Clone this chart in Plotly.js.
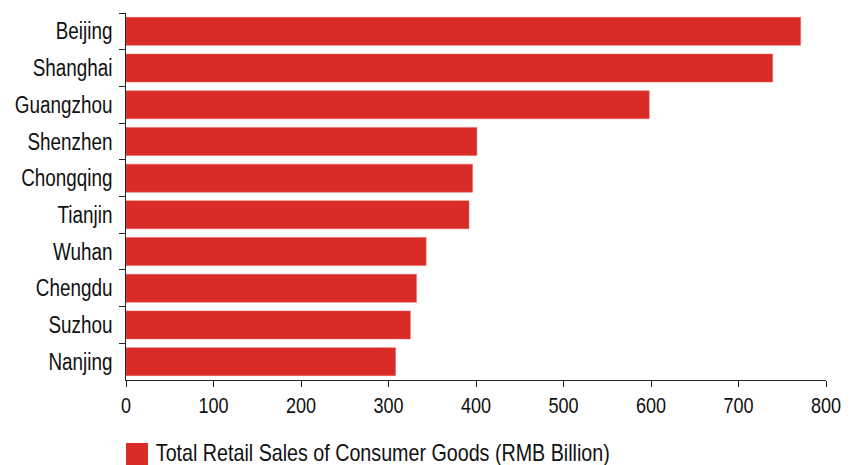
<!DOCTYPE html>
<html>
<head>
<meta charset="utf-8">
<script src="https://cdn.plot.ly/plotly-3.0.1.min.js"></script>
<style>html,body{margin:0;padding:0;background:#fff;}#chart{width:864px;height:465px;}</style>
</head>
<body>
<div id="chart"></div>
<script>
const cities = ["Beijing","Shanghai","Guangzhou","Shenzhen","Chongqing","Tianjin","Wuhan","Chengdu","Suzhou","Nanjing"];
const sales = [771, 739, 598, 401, 396, 392, 343, 332, 325, 308];
const xTicks = [0,100,200,300,400,500,600,700,800];
const seriesName = "Total Retail Sales of Consumer Goods (RMB Billion)";

const FONT = "Liberation Sans Narrow, Arial Narrow, Liberation Sans, Arial, sans-serif";
const RED = "#d92c26";
const NARROW = 0.82;

const trace = {
  type: "bar",
  orientation: "h",
  x: sales,
  y: cities,
  name: seriesName,
  marker: {color: RED, line: {color: "#e8615c", width: 0.5}},
  hoverinfo: "x+y",
  showlegend: false
};

const layout = {
  width: 864, height: 465,
  margin: {l: 126, r: 38, t: 13, b: 85, pad: 0},
  paper_bgcolor: "#fff", plot_bgcolor: "#fff",
  bargap: 0.237,
  font: {family: FONT, color: "#111", size: 22},
  xaxis: {
    range: [0, 800],
    tickvals: xTicks,
    ticktext: xTicks.map(String),
    showgrid: false, zeroline: false,
    showline: true, linecolor: "#222", linewidth: 1,
    ticks: "outside", ticklen: 6, tickcolor: "#222", tickwidth: 1,
    tickfont: {family: FONT, size: 22, color: "#111"},
    fixedrange: true
  },
  yaxis: {
    type: "category",
    categoryorder: "array", categoryarray: cities,
    range: [9.5, -0.5],
    showgrid: false, zeroline: false,
    showline: true, linecolor: "#222", linewidth: 1,
    ticks: "outside", ticklen: 6, tickcolor: "#222", tickwidth: 1,
    tickson: "boundaries",
    tickfont: {family: FONT, size: 23, color: "#111"},
    ticklabelstandoff: 8,
    fixedrange: true
  },
  shapes: [{
    type: "rect", xref: "paper", yref: "paper",
    xsizemode: "pixel", ysizemode: "pixel",
    xanchor: 0, yanchor: 0,
    x0: 0, x1: 22, y0: -63, y1: -85,
    fillcolor: RED, line: {width: 0}
  }],
  annotations: [{
    xref: "paper", yref: "paper", x: (382.7 - 126) / 700, y: 0,
    xanchor: "center", yanchor: "middle",
    yshift: -72,
    text: seriesName, showarrow: false,
    font: {family: FONT, size: 24, color: "#111"}
  }]
};

Plotly.newPlot("chart", [trace], layout, {displayModeBar: false, staticPlot: true}).then(function (gd) {
  // emulate the condensed (Arial Narrow style) face of the reference
  gd.querySelectorAll(".xtick text, .ytick text, .annotation-text").forEach(function (el) {
    const w = el.getComputedTextLength();
    if (w > 0) {
      el.setAttribute("textLength", (w * NARROW).toFixed(2));
      el.setAttribute("lengthAdjust", "spacingAndGlyphs");
    }
  });
});
</script>
</body>
</html>
